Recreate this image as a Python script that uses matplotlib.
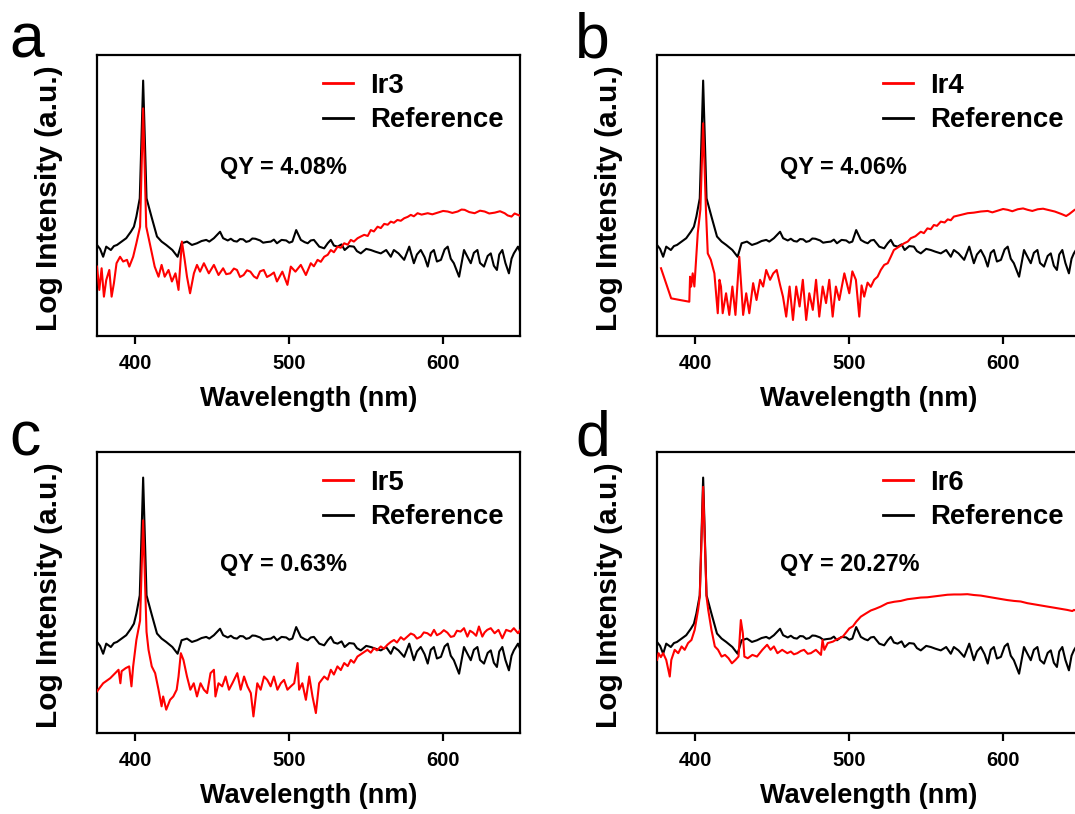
import matplotlib
matplotlib.use("Agg")
import matplotlib.pyplot as plt

plt.rcParams['font.family'] = ['Liberation Sans', 'DejaVu Sans']

# ---------------- data (log intensity, arbitrary units) ----------------
ref_wl = [375, 377, 379, 381, 384, 386, 388, 391, 394, 397, 399, 400.6, 402.8, 405, 407.2,
          410.4, 414, 417, 420, 424, 427.4, 430, 433.5, 436.7, 440, 443, 446, 448, 451, 455, 457,
          460, 462, 464, 466, 468, 470, 472, 474, 476, 478, 481, 483, 485, 488, 490, 492, 495, 498,
          500, 502, 504.5, 507.5, 510, 512, 514, 516,
          519.5, 522.7, 525, 527, 529, 531.4, 534, 536, 539, 542, 544, 546.5, 550, 553, 556, 559.5,
          563, 566, 568, 571, 574.7, 578, 581, 583, 585.5, 588, 590, 592, 594, 596, 598.6, 601,
          603, 605, 607, 610.4, 613.6, 616, 618, 620, 622.3, 624, 626.6, 629, 631, 633, 635, 636.5,
          638.5, 640.5, 642.8, 644.5, 646, 648.7, 650]
ref_val = [32.4, 31.0, 28.2, 31.8, 30.6, 32.0, 32.4, 33.6, 34.8, 37.1, 38.9, 42.5, 49.0, 90.9, 49.0,
           42.5, 35.4, 33.6, 32.4, 30.6, 28.2, 33.0, 33.6, 32.4, 33.0, 33.8, 34.2, 33.6, 34.8, 37.1, 34.8,
           34.0, 34.6, 33.8, 33.6, 34.5, 34.4, 33.5, 33.8, 34.7, 34.6, 34.0, 33.2, 33.4, 33.6, 34.3, 33.0,
           34.2, 34.0, 33.2, 33.6, 37.7, 34.2, 33.4, 33.0, 34.0, 34.2,
           31.8, 31.2, 33.0, 34.2, 32.2, 31.8, 32.6, 30.6, 32.0, 31.8, 30.2, 29.4, 31.0, 30.6, 30.0,
           29.4, 30.6, 28.2, 30.6, 29.4, 27.1, 31.8, 25.9, 29.0, 30.6, 28.0, 24.7, 29.6, 30.6, 26.5,
           27.1, 30.8, 31.8, 27.5, 25.9, 21.1, 30.6, 28.0, 25.9, 29.6, 30.6, 26.0, 24.7, 28.5, 29.4,
           25.0, 23.5, 29.0, 30.6, 26.0, 22.3, 27.5, 29.4, 31.8, 30.0]

ir3_wl = [375, 376.5, 378, 379.5, 381, 383, 384.5, 386, 387.7, 390, 392, 394.5, 396, 398.5, 400.6,
          403, 405, 407, 409.3, 412.5, 415, 417, 419, 421.5, 423.7, 426, 428, 430.2, 432, 433.5,
          435.5, 438, 440, 442, 444.5, 447.7, 451, 454, 457, 459, 461.6, 464, 466, 468, 470.3, 472.5,
          474.7, 477, 479, 481, 483.4, 485.5, 487.8, 490, 492, 495.5, 498.8, 501, 504, 507.5, 510.8,
          514, 516, 518.4, 520.5, 522.7, 525, 527, 529, 531.4, 533.5, 535.7, 538, 540, 542, 544.4,
          546.5, 548.7, 551, 553, 555, 557.4, 559.5, 561.7, 564, 566, 568, 570.3, 572.5, 574.7, 577,
          579, 581, 583.4, 586, 590, 593, 596.5, 600, 603, 606, 609.5, 612, 614, 617, 620.5, 624, 627,
          630, 633.6, 637, 640, 642, 644.5, 646.5, 648.7, 650]
ir3_val = [24.7, 16.4, 24.1, 14.0, 19.9, 23.5, 14.0, 18.8, 25.9, 28.2, 26.5, 27.1, 24.7, 28.2, 33.0,
           38.9, 81.0, 38.9, 33.0, 24.7, 21.1, 25.3, 21.1, 23.5, 19.4, 22.3, 16.4, 33.6, 27.1, 21.1,
           15.2, 22.3, 25.3, 22.9, 25.9, 22.3, 25.3, 21.7, 24.1, 22.0, 22.3, 24.0, 23.5, 21.0, 21.7, 23.4,
           22.9, 21.2, 20.5, 23.0, 23.5, 21.0, 21.7, 22.6, 19.4, 22.9, 18.2, 24.7, 22.9, 25.3, 21.7,
           25.9, 24.8, 27.1, 26.4, 28.2, 28.9, 30.6, 29.8, 31.8, 31.4, 33.0, 32.5, 34.2, 33.6, 34.8,
           35.4, 36.0, 35.6, 37.7, 37.2, 38.9, 38.4, 39.9, 39.6, 40.7, 40.3, 41.3, 41.0, 41.9, 42.4,
           43.1, 42.6, 43.7, 43.2, 43.7, 43.3, 43.9, 44.5, 44.3, 43.8, 44.3, 45.0, 44.9, 44.1, 43.7,
           44.6, 44.3, 43.6, 43.9, 44.4, 43.7, 42.9, 42.5, 43.6, 43.1, 42.8]

ir4_wl = [377.6, 384.2, 390, 396, 396.5, 397.2, 398.2, 399.3, 401.5, 403.2, 405, 406.8, 408, 410,
          412.3, 414.5, 415.6, 416.6, 417.7, 419.9, 422, 424, 426, 428.5, 431, 433, 435, 437.5,
          439.7, 442, 444, 446, 448.5, 450.6, 452.8, 455, 456.9, 459, 461.2, 463.4, 465.5, 467.7,
          469.8, 472, 474, 476.3, 478.4, 480.5, 482.7, 484.9, 487, 489.2, 491.3, 493.5, 496.8, 500,
          502, 504.3, 506.5, 508, 509.7, 511.9, 514, 516.2, 518.4, 520.5, 522.7, 525, 527, 529,
          532.4, 535.7, 538, 540, 543, 546.5, 548.5, 550.8, 553, 555, 557, 559.5, 562, 564, 566, 568,
          572.6, 577, 581, 585.5, 590, 593, 596.5, 600, 603, 606, 609.5, 613, 616, 619, 622.5, 626,
          629, 633.6, 638, 641, 643, 646.5, 650]
ir4_val = [24.1, 13.4, 12.8, 12.2, 21.1, 17.6, 22.3, 17.6, 36.6, 45.0, 75.7, 45.0, 29.4, 27.1,
           22.3, 8.1, 20.0, 17.6, 8.1, 15.2, 7.5, 17.6, 7.5, 28.2, 7.5, 15.2, 8.1, 18.8,
           12.8, 20.0, 17.6, 23.5, 20.0, 22.3, 23.5, 18.2, 14.0, 6.9, 17.6, 5.7, 17.6, 10.5,
           20.0, 5.7, 15.2, 9.3, 20.0, 6.9, 17.6, 11.7, 20.0, 6.9, 17.6, 12.8, 22.3, 15.2,
           23.0, 20.0, 6.9, 18.0, 14.0, 19.0, 17.5, 20.0, 21.1, 23.5, 25.3, 25.9, 28.2, 30.6,
           31.8, 33.0, 33.6, 34.8, 35.5, 37.1, 36.6, 38.3, 38.0, 39.5, 39.2, 40.7, 40.4, 41.5, 41.2,
           42.5, 43.1, 43.7, 43.9, 44.3, 44.5, 44.0, 44.6, 45.2, 44.9, 44.4, 45.1, 45.4, 44.9, 44.5,
           45.1, 45.3, 44.9, 44.3, 43.4, 42.7, 43.4, 44.9, 45.5]

ir5_wl = [375, 379, 383.6, 386.9, 389, 390.2, 391, 393.7, 395.9, 397.4, 398.5, 400.6, 403, 405,
          407.2, 408.5, 410.6, 412.8, 415, 417, 418, 420, 422.5, 424.6, 426.8, 428, 429.5, 431.2,
          433.5, 435.7, 437.9, 440, 442.3, 444.5, 446.6, 448.8, 451, 452, 454, 456.4, 458.6, 460.8,
          463, 466.2, 468.4, 470.6, 472.8, 475, 476.7, 479.2, 481.4, 483.6, 485.7, 487.9, 490,
          492.3, 494.5, 496.6, 498.8, 501, 503.2, 505.4, 506.4, 508.5, 510.8, 513, 515.1, 517.3,
          519.4, 522.7, 525, 527, 529, 531.3, 533.5, 535.7, 538, 540, 542, 544.3, 547.6, 550.8, 553,
          555.1, 557, 559.5, 561.5, 563.8, 566, 568.1, 570, 572.5, 574.5, 576.8, 579, 581.1, 583,
          585.5, 587.5, 589.8, 592, 594.1, 596, 598.4, 600.5, 602.8, 605, 607.1, 609, 611.4, 613.6,
          615.8, 617.5, 619.5, 621.5, 623.3, 625.5, 627, 628.7, 631, 633.5, 636, 638.5, 641, 644,
          646, 648.7, 650]
ir5_val = [14.8, 17.7, 19.5, 21.3, 22.5, 17.7, 22.0, 23.1, 23.7, 16.6, 23.7, 33.1, 40.0, 75.7,
           36.0, 29.6, 23.7, 21.3, 15.4, 9.5, 13.0, 8.3, 11.8, 13.0, 15.4, 20.1, 28.4, 26.0,
           20.1, 15.4, 17.7, 13.0, 17.7, 15.4, 14.2, 21.3, 22.5, 13.0, 17.7, 16.6, 20.1, 15.4,
           17.7, 21.3, 15.4, 20.1, 16.6, 14.2, 5.9, 17.7, 15.4, 20.1, 18.9, 16.6, 20.1,
           15.4, 17.7, 18.9, 15.4, 16.6, 17.7, 24.9, 15.4, 17.7, 11.8, 20.1, 13.0, 7.1,
           17.7, 20.1, 19.0, 22.5, 20.8, 23.7, 22.4, 24.9, 23.8, 26.0, 25.0, 27.2, 28.4, 29.6, 28.6,
           30.2, 29.4, 30.8, 30.0, 31.4, 32.4, 33.1, 32.2, 34.1, 33.2, 34.3, 35.4, 34.9, 33.6,
           34.3, 35.8, 35.5, 34.6, 36.7, 34.8, 35.5, 36.6, 35.7, 34.2, 34.5, 36.4, 36.1, 37.3,
           34.3, 36.4, 35.7, 34.6, 37.9, 34.3, 35.8, 36.7, 37.3, 35.5, 36.7, 33.7, 36.7, 36.1,
           37.3, 35.5, 36.5]

ir6_wl = [375, 376, 377.5, 379, 381, 383.3, 384.3, 386.5, 388.8, 391, 393, 395.2, 397.4, 399.5,
          401.7, 402.8, 405, 407.2, 408.3, 410.4, 412.6, 414.7, 417, 419.2, 421.5, 423.7, 426,
          428, 429.5, 430.8, 431.8, 434, 437, 440, 443.5, 446.6, 448.8, 451, 453.3, 456.4, 459.7,
          462, 464, 466.2, 468.5, 470.6, 473, 475, 478.3, 481.6, 482.6, 483.8, 486, 489.3, 491.5,
          495.8, 500, 502.4, 504.5, 507.5, 511, 514, 517, 520.5, 524.8, 529.2, 533.5, 537.8, 542.2,
          546.5, 550.8, 555.1, 559.5, 563.8, 568.1, 572.5, 576.8, 581.1, 585.5, 589.8, 594.1, 598.4,
          602.8, 607.1, 611.4, 615.8, 620.1, 624.4, 628.7, 633.1, 637.4, 641.7, 645, 646.1, 650]
ir6_val = [26.0, 28.4, 27.0, 28.4, 26.0, 20.1, 26.0, 29.6, 28.4, 30.8, 29.6, 32.0, 33.1, 36.7,
           43.8, 48.5, 87.6, 48.5, 43.8, 36.7, 30.8, 29.6, 27.2, 27.8, 26.6, 24.8, 26.0,
           27.2, 40.2, 35.5, 27.2, 26.6, 27.8, 27.2, 29.6, 31.4, 29.6, 30.8, 28.4, 29.6, 28.4,
           29.0, 28.0, 28.4, 29.2, 29.6, 28.2, 28.4, 29.6, 27.8, 33.1, 29.6, 32.0, 32.5, 33.2,
           34.3, 37.2, 38.0, 39.6, 41.4, 42.6, 43.6, 44.2, 45.0, 46.2, 46.7, 47.0, 47.6, 47.9,
           48.2, 48.3, 48.6, 48.9, 49.2, 49.3, 49.3, 49.4, 49.1, 48.9, 48.5, 48.1, 47.7,
           47.3, 47.0, 46.8, 46.2, 45.8, 45.4, 45.0, 44.6, 44.2, 43.8, 43.4, 43.8, 43.0]

panel_letters = ['a', 'b', 'c', 'd']
sample_names = ['Ir3', 'Ir4', 'Ir5', 'Ir6']
qy_labels = ['QY = 4.08%', 'QY = 4.06%', 'QY = 0.63%', 'QY = 20.27%']
sample_wl = [ir3_wl, ir4_wl, ir5_wl, ir6_wl]
sample_val = [ir3_val, ir4_val, ir5_val, ir6_val]
xticks = [400, 500, 600]

# ---------------- figure ----------------
W, H = 1075, 814
fig = plt.figure(figsize=(W / 100, H / 100), dpi=100)

# axes boxes in pixels: (left, top, right, bottom)
boxes = [(97, 55, 520, 336), (657, 55, 1080, 336),
         (97, 452, 520, 733), (657, 452, 1080, 733)]
letter_pos = [(9, 57), (575, 57), (9, 455), (575, 455)]

for i in range(4):
    l, t, r, b = boxes[i]
    ax = fig.add_axes([l / W, 1 - b / H, (r - l) / W, (b - t) / H])
    ax.plot(sample_wl[i], sample_val[i], color='#ff0000', lw=1.5, label=sample_names[i], zorder=3)
    ax.plot(ref_wl, ref_val, color='black', lw=1.5, label='Reference', zorder=2)
    ax.set_xlim(375, 650)
    ax.set_ylim(0, 100)
    ax.set_xticks(xticks)
    ax.set_yticks([])
    for s in ax.spines.values():
        s.set_linewidth(1.6)
    ax.tick_params(axis='x', direction='out', length=6, width=1.6, pad=7,
                   labelsize=14.5)
    for lab in ax.get_xticklabels():
        lab.set_fontweight('bold')
    ax.set_xlabel('Wavelength (nm)', fontsize=19.5, fontweight='bold', labelpad=9)
    ax.set_ylabel('Log Intensity (a.u.)', fontsize=21.5, fontweight='bold')
    ax.yaxis.set_label_coords(-0.080, 0.49)
    leg = ax.legend(loc='upper left', bbox_to_anchor=(0.534, 0.936), frameon=False,
                    fontsize=19.8, handlelength=1.1, handletextpad=0.6, labelspacing=0.3,
                    borderpad=0, borderaxespad=0)
    for txt in leg.get_texts():
        txt.set_fontweight('bold')
    for ln in leg.get_lines():
        ln.set_linewidth(2)
    ax.text(0.291, 0.60, qy_labels[i], transform=ax.transAxes, fontsize=16.8,
            fontweight='bold', va='center', ha='left')
    lx, ly = letter_pos[i]
    fig.text(lx / W, 1 - ly / H, panel_letters[i], fontsize=45, va='baseline', ha='left')

fig.savefig('out.png', dpi=100)
